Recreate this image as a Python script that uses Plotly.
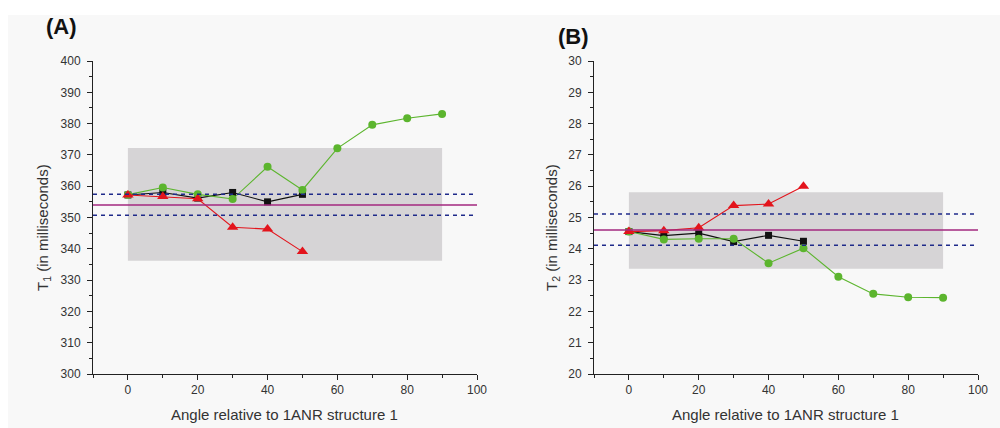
import plotly.graph_objects as go

# ---------------- data ----------------
angles_short = [0, 10, 20, 30, 40, 50]
angles_long = [0, 10, 20, 30, 40, 50, 60, 70, 80, 90]

# Panel A: T1 (ms)
t1_black = [357.2, 358.0, 356.2, 358.0, 355.0, 357.4]
t1_red = [357.2, 356.7, 356.0, 346.9, 346.3, 339.1]
t1_green = [357.3, 359.6, 357.4, 355.9, 366.2, 358.8, 372.1, 379.6, 381.7, 383.1]
t1_mean = 354.0
t1_band = [350.7, 357.4]
t1_box_x = [0, 90]
t1_box_y = [336.2, 372.2]

# Panel B: T2 (ms)
t2_black = [24.55, 24.42, 24.50, 24.23, 24.43, 24.24]
t2_red = [24.55, 24.58, 24.67, 25.38, 25.43, 26.00]
t2_green = [24.55, 24.30, 24.32, 24.32, 23.54, 24.02, 23.11, 22.56, 22.45, 22.44]
t2_mean = 24.60
t2_band = [24.11, 25.11]
t2_box_x = [0, 90]
t2_box_y = [23.36, 25.81]

x_range = [-10, 100]
y1_range = [300, 400]
y2_range = [20, 30]

# ---------------- styles ----------------
BLACK = "#111111"
RED = "#e3141c"
GREEN = "#5cb52e"
MAGENTA = "#a3297f"
NAVY = "#1f2a8a"
BOX = "#d6d4d6"
AXIS = "#222222"
FONT = "Liberation Sans, Arial, sans-serif"

fig = go.Figure()


def add_series(x, y, xa, ya, color, symbol, size):
    fig.add_trace(go.Scatter(
        x=x, y=y, xaxis=xa, yaxis=ya, mode="lines+markers",
        line=dict(color=color, width=1.1),
        marker=dict(color=color, symbol=symbol, size=size, line=dict(width=0)),
        showlegend=False, hoverinfo="skip"))


# Panel A traces
add_series(angles_short, t1_black, "x", "y", BLACK, "square", 7)
add_series(angles_long, t1_green, "x", "y", GREEN, "circle", 8)
add_series(angles_short, t1_red, "x", "y", RED, "triangle-up", 10)
# Panel B traces
add_series(angles_short, t2_black, "x2", "y2", BLACK, "square", 7)
add_series(angles_long, t2_green, "x2", "y2", GREEN, "circle", 8)
add_series(angles_short, t2_red, "x2", "y2", RED, "triangle-up", 10)

shapes = [
    # page background (off-white, leaving a thin white strip at top and left)
    dict(type="rect", xref="paper", yref="paper", x0=0.008, x1=1, y0=0, y1=0.965,
         fillcolor="#f8f8f8", line=dict(width=0), layer="below"),
]
for xa, ya, bx, by, mean, band in [("x", "y", t1_box_x, t1_box_y, t1_mean, t1_band),
                                   ("x2", "y2", t2_box_x, t2_box_y, t2_mean, t2_band)]:
    shapes.append(dict(type="rect", xref=xa, yref=ya, x0=bx[0], x1=bx[1], y0=by[0], y1=by[1],
                       fillcolor=BOX, line=dict(width=0), layer="below"))
    for b in band:
        shapes.append(dict(type="line", xref=xa + " domain", yref=ya, x0=0, x1=1, y0=b, y1=b,
                           line=dict(color=NAVY, width=1.5, dash="4px,4px"), layer="above"))
    shapes.append(dict(type="line", xref=xa + " domain", yref=ya, x0=0, x1=1, y0=mean, y1=mean,
                       line=dict(color=MAGENTA, width=1.5), layer="above"))

axis_common = dict(showline=True, linecolor=AXIS, linewidth=1, ticks="outside",
                   ticklen=5, tickwidth=1, tickcolor=AXIS, showgrid=False, zeroline=False,
                   automargin=False,
                   tickfont=dict(family=FONT, size=12, color="#333333"), mirror=False)

ydom = [1 - 374 / 428, 1 - 61 / 428]
fig.update_layout(
    template="none",
    width=1000, height=428,
    margin=dict(l=0, r=0, t=0, b=0, pad=0, autoexpand=False),
    paper_bgcolor="white", plot_bgcolor="rgba(0,0,0,0)",
    shapes=shapes,
    xaxis=dict(domain=[93 / 1000, 477 / 1000], range=x_range, anchor="y", tick0=0, dtick=20,
               minor=dict(ticks="outside", ticklen=3, dtick=10, tick0=0, tickcolor=AXIS, showgrid=False),
               **axis_common),
    yaxis=dict(domain=ydom, range=y1_range, anchor="x", dtick=10, ticklabelstandoff=4,
               minor=dict(ticks="outside", ticklen=3, dtick=5, tickcolor=AXIS, showgrid=False),
               **axis_common),
    xaxis2=dict(domain=[594 / 1000, 978 / 1000], range=x_range, anchor="y2", tick0=0, dtick=20,
                minor=dict(ticks="outside", ticklen=3, dtick=10, tick0=0, tickcolor=AXIS, showgrid=False),
                **axis_common),
    yaxis2=dict(domain=ydom, range=y2_range, anchor="x2", dtick=1, ticklabelstandoff=4,
                minor=dict(ticks="outside", ticklen=3, dtick=0.5, tickcolor=AXIS, showgrid=False),
                **axis_common),
)

title_font = dict(family=FONT, size=15, color="#333333")


def ann(text, px, py, font, angle=0):
    return dict(text=text, x=px / 1000, y=1 - py / 428, xref="paper", yref="paper",
                xanchor="center", yanchor="middle", showarrow=False, textangle=angle,
                font=font, borderpad=0)


annotations = [
    ann("<b>(A)</b>", 61, 27, dict(family=FONT, size=22, color="#111111")),
    ann("<b>(B)</b>", 573, 36, dict(family=FONT, size=22, color="#111111")),
    ann("Angle relative to 1ANR structure 1", 284, 414, title_font),
    ann("Angle relative to 1ANR structure 1", 785, 414, title_font),
    ann("T<sub>1</sub> (in milliseconds)", 44, 228, title_font, -90),
    ann("T<sub>2</sub> (in milliseconds)", 553, 228, title_font, -90),
]
fig.update_layout(annotations=annotations)

fig.write_html("out.html")
